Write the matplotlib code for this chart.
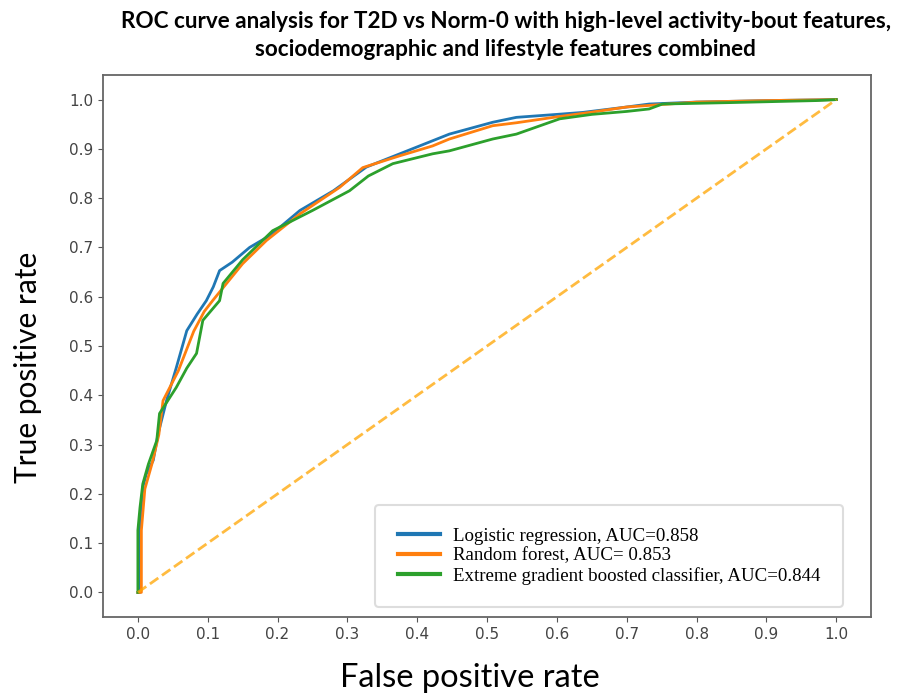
import numpy as np
import matplotlib.pyplot as plt

# ROC points (false positive rate, true positive rate)
lr_fpr = [0.0, 0.003, 0.003, 0.007, 0.012, 0.022, 0.029, 0.041, 0.055, 0.07, 0.085, 0.098, 0.108, 0.117,
          0.135, 0.16, 0.19, 0.232, 0.28, 0.327, 0.375, 0.446, 0.508, 0.542, 0.6, 0.637, 0.7, 0.732,
          0.8, 0.9, 1.0]
lr_tpr = [0.0, 0.0, 0.126, 0.213, 0.24, 0.268, 0.322, 0.389, 0.456, 0.531, 0.565, 0.592, 0.62, 0.653,
          0.67, 0.70, 0.725, 0.775, 0.815, 0.863, 0.89, 0.93, 0.954, 0.964, 0.97, 0.974, 0.985, 0.991,
          0.995, 0.998, 1.0]

rf_fpr = [0.0, 0.005, 0.005, 0.01, 0.02, 0.03, 0.036, 0.058, 0.08, 0.095, 0.107, 0.127, 0.15, 0.184,
          0.232, 0.289, 0.322, 0.375, 0.422, 0.446, 0.508, 0.542, 0.6, 0.647, 0.7, 0.75, 0.8, 0.9, 1.0]
rf_tpr = [0.0, 0.0, 0.126, 0.21, 0.26, 0.32, 0.389, 0.45, 0.53, 0.57, 0.592, 0.627, 0.667, 0.714,
          0.768, 0.822, 0.862, 0.886, 0.906, 0.92, 0.947, 0.953, 0.965, 0.974, 0.985, 0.99, 0.995,
          0.998, 1.0]

xgb_fpr = [0.0, 0.0, 0.003, 0.007, 0.015, 0.027, 0.031, 0.055, 0.07, 0.084, 0.093, 0.117, 0.122, 0.15,
           0.193, 0.25, 0.303, 0.33, 0.365, 0.422, 0.446, 0.508, 0.542, 0.604, 0.65, 0.7, 0.732, 0.751,
           0.85, 0.971, 1.0]
xgb_tpr = [0.0, 0.126, 0.172, 0.22, 0.26, 0.308, 0.363, 0.416, 0.455, 0.485, 0.552, 0.592, 0.627, 0.675,
           0.734, 0.775, 0.815, 0.845, 0.87, 0.89, 0.896, 0.92, 0.93, 0.961, 0.97, 0.976, 0.981, 0.991,
           0.994, 0.998, 1.0]

labels = ['Logistic regression, AUC=0.858',
          'Random forest, AUC= 0.853',
          'Extreme gradient boosted classifier, AUC=0.844']

fig = plt.figure(figsize=(9, 6.98), dpi=100)
ax = fig.add_axes([0.1144, 0.116, 0.8536, 0.7766])

ax.plot(lr_fpr, lr_tpr, color='#1f77b4', lw=2, label=labels[0])
ax.plot(rf_fpr, rf_tpr, color='#ff7f0e', lw=2, label=labels[1])
ax.plot(xgb_fpr, xgb_tpr, color='#2ca02c', lw=2, label=labels[2])
ax.plot([0, 1], [0, 1], color='orange', lw=2, ls='--', alpha=0.75)

ax.set_xticks(np.arange(0, 1.01, 0.1))
ax.set_yticks(np.arange(0, 1.01, 0.1))
ax.tick_params(labelsize=11, labelcolor='#444444', color='#555555')
for s in ax.spines.values():
    s.set_color('#666666')
    s.set_linewidth(1.3)

fig.text(470/900, 1 - 678/698, 'False positive rate', fontsize=23.5, family='Lato', ha='center', va='center')
fig.text(28/900, 1 - 367/698, 'True positive rate', fontsize=21.5, family='Lato', ha='center', va='center',
         rotation=90)
fig.suptitle('ROC curve analysis for T2D vs Norm-0 with high-level activity-bout features,\n'
             'sociodemographic and lifestyle features combined',
             x=0.562, y=0.984, fontsize=16.2, fontweight='bold', family='Lato', linespacing=1.42)

leg = ax.legend(loc='lower right', bbox_to_anchor=(0.963, 0.018), prop={'family': 'Liberation Serif', 'size': 13.6},
                handlelength=2.25, handletextpad=0.65, labelspacing=0.12, borderpad=1.2, borderaxespad=0,
                edgecolor='#dddddd', fancybox=True, framealpha=1)
leg.get_frame().set_linewidth(1.5)
for h in leg.get_lines():
    h.set_linewidth(3)

fig.savefig('out.png', dpi=100)
